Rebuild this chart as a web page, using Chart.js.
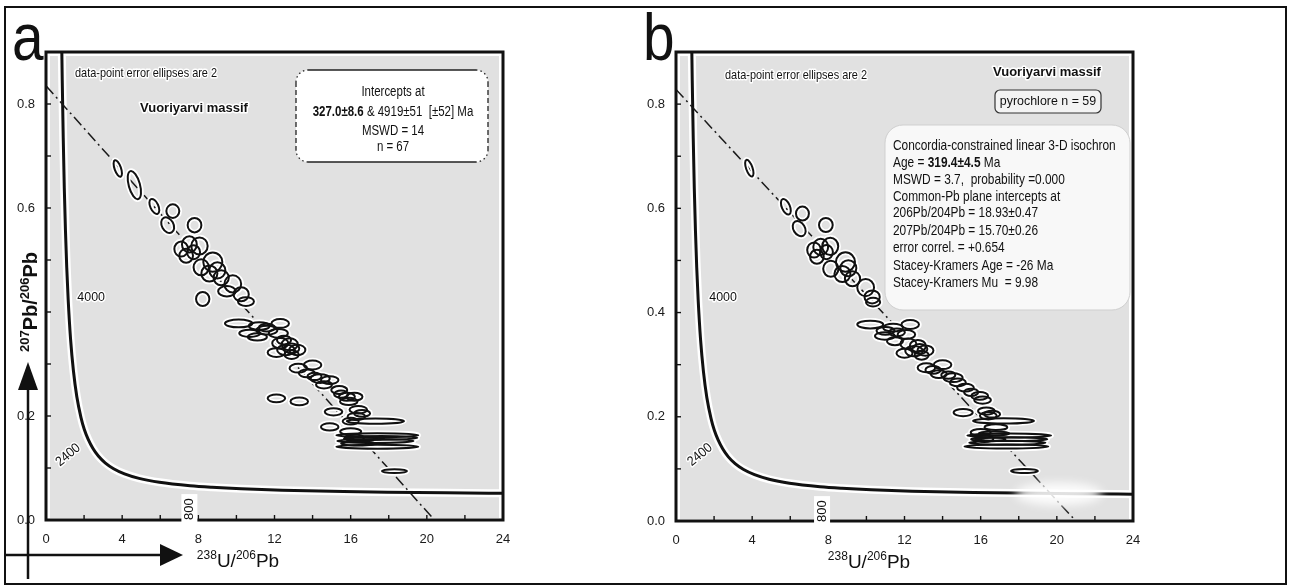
<!DOCTYPE html>
<html><head><meta charset="utf-8">
<script src="https://cdn.jsdelivr.net/npm/chart.js@4.4.1/dist/chart.umd.min.js"></script>
<style>
html,body{margin:0;padding:0;background:#fff;}
#wrap{position:relative;width:1291px;height:588px;overflow:hidden;background:#fff;}
#ca{position:absolute;left:0;top:0;}
#cb{position:absolute;left:640px;top:0;}
#border{position:absolute;left:4px;top:6px;width:1279px;height:575px;border:2.5px solid #111;pointer-events:none;}
</style></head><body>
<div id="wrap">
<canvas id="ca" width="640" height="588"></canvas>
<canvas id="cb" width="651" height="588"></canvas>
<div id="border"></div>
</div>
<script>
// ---------------- data ----------------
const xTickValues = [0, 4, 8, 12, 16, 20, 24];
const yLabelValsA = [0.0, 0.2, 0.6, 0.8];
const yLabelValsB = [0.0, 0.2, 0.4, 0.6, 0.8];

// Tera-Wasserburg concordia (age Ma, 238U/206Pb, 207Pb/206Pb)
const concAge = [5100,5000,4800,4600,4400,4200,4000,3700,3400,3100,2800,2600,2400,2200,2000,1800,1600,1400,1200,1000,800,700,600,500,400,350,300,260];
const concX = [0.829,0.853,0.905,0.960,1.022,1.089,1.163,1.290,1.440,1.619,1.838,2.013,2.217,2.459,2.749,3.105,3.550,4.123,4.888,5.959,7.568,8.718,10.252,12.399,15.620,17.923,20.990,24.29];
const concY = [0.907,0.845,0.735,0.639,0.557,0.486,0.425,0.348,0.287,0.237,0.197,0.174,0.155,0.138,0.123,0.110,0.0987,0.0888,0.0801,0.0725,0.0658,0.0628,0.0599,0.0572,0.0547,0.0535,0.0523,0.0514];

// isochrons
const isoAX = [0, 20.4], isoAY = [0.835, 0];
const isoBX = [0, 21.0], isoBY = [0.828, 0];

// panel a error ellipses: centre, half-widths, correlation
const aX  = [3.77,4.64,5.69,6.66,6.39,7.80,7.10,7.53,8.06,7.36,7.75,8.15,8.76,8.58,9.20,9.81,10.25,8.23,9.0,9.5,10.5,
             10.12,11.2,12.3,11.6,10.7,11.1,12.2,12.3,12.8,13.2,12.6,12.1,12.9,12.5,13.25,14.0,13.7,14.4,14.9,14.6,14.1,
             15.8,16.2,15.9,15.5,12.1,13.3,15.1,16.4,16.3,16.0,14.9,17.3,16.0,16.2,17.4,17.3,17.4,16.7,16.4,18.3,11.6,12.9,16.6,15.4,17.6];
const aY  = [0.676,0.644,0.603,0.594,0.567,0.567,0.521,0.530,0.527,0.508,0.515,0.486,0.496,0.474,0.466,0.454,0.434,0.425,0.480,0.440,0.420,
             0.378,0.373,0.378,0.365,0.359,0.352,0.359,0.340,0.338,0.327,0.327,0.322,0.318,0.346,0.292,0.298,0.282,0.272,0.269,0.260,0.276,
             0.237,0.237,0.228,0.242,0.234,0.228,0.208,0.212,0.199,0.190,0.179,0.190,0.170,0.158,0.163,0.152,0.141,0.157,0.147,0.094,0.370,0.330,0.205,0.250,0.158];
const aSX = [0.22,0.35,0.26,0.34,0.34,0.36,0.36,0.39,0.43,0.36,0.34,0.40,0.50,0.42,0.40,0.44,0.40,0.35,0.42,0.46,0.42,
             0.72,0.55,0.46,0.55,0.55,0.50,0.50,0.42,0.42,0.42,0.46,0.46,0.37,0.37,0.46,0.46,0.42,0.50,0.46,0.42,0.37,
             0.42,0.42,0.46,0.37,0.46,0.46,0.46,0.46,0.46,0.42,0.46,1.50,0.55,0.50,2.15,2.00,2.15,1.05,0.90,0.66,0.42,0.40,0.42,0.42,1.90];
const aSY = [0.016,0.027,0.0145,0.013,0.015,0.014,0.0145,0.0155,0.0165,0.0135,0.0135,0.0155,0.0185,0.0155,0.0145,0.0165,0.0135,0.0135,0.0155,0.010,0.0085,
             0.0075,0.0075,0.0085,0.0085,0.007,0.007,0.0085,0.010,0.0115,0.010,0.010,0.0085,0.0085,0.0085,0.0085,0.0085,0.0075,0.0085,0.0075,0.007,0.007,
             0.0075,0.0075,0.007,0.007,0.0075,0.0075,0.007,0.007,0.007,0.0065,0.007,0.005,0.0065,0.0065,0.0038,0.0038,0.0038,0.0038,0.0038,0.0038,0.0075,0.0095,0.0065,0.0075,0.0035];
const aRho = [-0.6,-0.5,-0.5,0,-0.3,0,0,0,0,0,0,0,0,0,0,0,0,0,0,0,0,
              0,0,0,0,0,0,0,0,0,0,0,0,0,0,0,0,0,0,0,0,0,
              0,0,0,0,0,0,0,0,0,0,0,0,0,0,0,0,0,0,0,0,0,0,0,0,0];

// panel b error ellipses
const bX  = [3.85,5.77,6.64,6.47,7.87,7.25,7.60,7.90,7.40,8.10,8.13,8.90,8.74,9.27,9.96,10.30,10.35,9.05,
             10.2,11.4,12.3,10.97,12.1,11.0,12.2,12.7,13.1,12.5,12.0,12.9,13.15,14.0,13.8,14.55,14.3,15.2,15.95,16.1,15.5,
             15.08,16.3,16.4,17.2,16.0,16.2,17.5,17.4,17.35,16.4,18.3,16.7,11.6,12.8,14.8,16.6,13.5,16.8,11.5,17.6];
const bY  = [0.677,0.603,0.590,0.561,0.568,0.520,0.526,0.516,0.507,0.527,0.484,0.497,0.474,0.465,0.448,0.430,0.420,0.485,
             0.377,0.371,0.377,0.355,0.358,0.365,0.340,0.336,0.327,0.326,0.322,0.318,0.294,0.300,0.282,0.275,0.280,0.256,0.240,0.232,0.247,
             0.208,0.211,0.202,0.192,0.170,0.158,0.164,0.150,0.143,0.157,0.096,0.168,0.362,0.330,0.266,0.205,0.290,0.180,0.345,0.157];
const bSX = [0.22,0.26,0.34,0.34,0.36,0.36,0.39,0.34,0.36,0.42,0.40,0.50,0.42,0.40,0.44,0.40,0.37,0.42,
             0.68,0.52,0.46,0.52,0.46,0.47,0.42,0.42,0.42,0.46,0.42,0.37,0.46,0.46,0.42,0.50,0.37,0.44,0.44,0.44,0.37,
             0.50,0.44,0.44,1.60,0.52,0.47,2.20,2.00,2.20,0.90,0.70,0.80,0.42,0.40,0.42,0.42,0.40,0.60,0.42,1.90];
const bSY = [0.016,0.015,0.0135,0.0145,0.0135,0.0145,0.0155,0.0135,0.0135,0.0165,0.0155,0.0185,0.0155,0.0145,0.0165,0.0125,0.0085,0.0155,
             0.0075,0.0075,0.0085,0.007,0.0085,0.0075,0.010,0.0115,0.010,0.010,0.0085,0.0085,0.0085,0.0085,0.0075,0.0085,0.007,0.0075,0.0075,0.007,0.007,
             0.007,0.007,0.007,0.005,0.0065,0.0065,0.0038,0.0038,0.0038,0.0038,0.0038,0.0038,0.0075,0.0095,0.0075,0.0065,0.0075,0.0055,0.0075,0.0035];
const bRho = [-0.6,-0.5,0,-0.3,0,0,0,0,0,0,0,0,0,0,0,0,0,0,
              0,0,0,0,0,0,0,0,0,0,0,0,0,0,0,0,0,0,0,0,0,
              0,0,0,0,0,0,0,0,0,0,0,0,0,0,0,0,0,0,0,0];

// ---------------- drawing helpers ----------------
const SANS = '"Liberation Sans", Arial, sans-serif';
const GREY = '#e1e1e1';
const INK = '#111';
const NARROW_SCALE = 0.82;

function pts(xs, ys){ return xs.map((x,i)=>({x, y: ys[i]})); }
function ellPts(X,Y,SX,SY,R){ return X.map((x,i)=>({x, y:Y[i], sx:SX[i], sy:SY[i], rho:R[i]})); }

function ellipseGeom(xs, ys, p){
  const cx = xs.getPixelForValue(p.x), cy = ys.getPixelForValue(p.y);
  const kx = Math.abs(xs.getPixelForValue(1) - xs.getPixelForValue(0));
  const ky = Math.abs(ys.getPixelForValue(1) - ys.getPixelForValue(0));
  const a = (p.sx*kx)**2, d = (p.sy*ky)**2, b = -p.rho*p.sx*kx*p.sy*ky;
  const m = (a+d)/2, r = Math.sqrt(((a-d)/2)**2 + b*b);
  const l1 = m + r, l2 = Math.max(m - r, 0.25);
  const th = 0.5*Math.atan2(2*b, a-d);
  return {cx, cy, rx: Math.sqrt(l1), ry: Math.sqrt(l2), th};
}

// text with optional horizontal condensing and white halo
function txt(ctx, t, x, y, opt){
  const o = Object.assign({size: 13, bold: false, align: 'left', sc: 1, halo: false, base: 'middle'}, opt || {});
  ctx.save();
  ctx.translate(x, y); ctx.scale(o.sc, 1);
  ctx.font = (o.bold ? 'bold ' : '') + o.size + 'px ' + SANS;
  ctx.textAlign = o.align; ctx.textBaseline = o.base;
  if (o.halo){ ctx.strokeStyle = '#fff'; ctx.lineWidth = 3; ctx.lineJoin = 'round'; ctx.strokeText(t, 0, 0); }
  ctx.fillStyle = INK; ctx.fillText(t, 0, 0);
  ctx.restore();
}

function drawRuns(ctx, runs, x, y, align, size, sc){
  let total = 0;
  runs.forEach(r => { ctx.font = (r.b ? 'bold ' : '') + size + 'px ' + SANS; r.w = ctx.measureText(r.t).width * sc; total += r.w; });
  let sx = align === 'center' ? x - total/2 : x;
  runs.forEach(r => { txt(ctx, r.t, sx, y, {size, bold: r.b, sc}); sx += r.w; });
}

function drawSupTitle(ctx, parts, cx, base, weight, mainSize, supSize, raise){
  let total = 0;
  parts.forEach(p => { ctx.font = weight + ' ' + (p.sup ? supSize : mainSize) + 'px ' + SANS; p.w = ctx.measureText(p.t).width; total += p.w; });
  let x = cx - total/2;
  ctx.textAlign = 'left'; ctx.textBaseline = 'alphabetic'; ctx.fillStyle = INK;
  parts.forEach(p => { ctx.font = weight + ' ' + (p.sup ? supSize : mainSize) + 'px ' + SANS; ctx.fillText(p.t, x, p.sup ? base - raise : base); x += p.w; });
}

function roundBox(ctx, x, y, w, h, r, fill, stroke, lw, dashCorners){
  ctx.save();
  ctx.beginPath(); ctx.roundRect(x, y, w, h, r);
  ctx.fillStyle = fill; ctx.fill();
  ctx.strokeStyle = stroke; ctx.lineWidth = lw;
  if (dashCorners){
    ctx.beginPath();
    ctx.moveTo(x + r, y); ctx.lineTo(x + w - r, y);
    ctx.moveTo(x + r, y + h); ctx.lineTo(x + w - r, y + h);
    ctx.stroke();
    ctx.setLineDash([5, 3]);
    ctx.beginPath();
    ctx.moveTo(x, y + r); ctx.lineTo(x, y + h - r);
    ctx.moveTo(x + w, y + r); ctx.lineTo(x + w, y + h - r);
    ctx.stroke();
    ctx.setLineDash([1.5, 3]);
    ctx.beginPath(); ctx.arc(x + r, y + r, r, Math.PI, 1.5*Math.PI); ctx.stroke();
    ctx.beginPath(); ctx.arc(x + w - r, y + r, r, 1.5*Math.PI, 2*Math.PI); ctx.stroke();
    ctx.beginPath(); ctx.arc(x + w - r, y + h - r, r, 0, 0.5*Math.PI); ctx.stroke();
    ctx.beginPath(); ctx.arc(x + r, y + h - r, r, 0.5*Math.PI, Math.PI); ctx.stroke();
  } else {
    ctx.stroke();
  }
  ctx.restore();
}

function dataText(chart, t, dx, dy, rot, size){
  const ctx = chart.ctx, xs = chart.scales.x, ys = chart.scales.y;
  const px = xs.getPixelForValue(dx), py = ys.getPixelForValue(dy);
  ctx.save(); ctx.translate(px, py); ctx.rotate(rot);
  txt(ctx, t, 0, 0, {size, align: 'center', halo: true, sc: 0.92});
  ctx.restore();
}

function label800(chart, dx, dy){
  const ctx = chart.ctx, xs = chart.scales.x, ys = chart.scales.y;
  const px = xs.getPixelForValue(dx), py = ys.getPixelForValue(dy);
  ctx.save(); ctx.translate(px, py); ctx.rotate(-Math.PI/2);
  ctx.fillStyle = '#fff'; ctx.fillRect(-15, -8, 30, 16);
  txt(ctx, '800', 0, 0.5, {size: 13, align: 'center'});
  ctx.restore();
}

function makePlugin(cfg){
  return {
    id: 'panel' + cfg.name,
    beforeDraw(chart){
      const {ctx, chartArea: ca} = chart;
      ctx.save();
      ctx.fillStyle = '#fff'; ctx.fillRect(ca.left, ca.top, ca.width, ca.height);
      ctx.fillStyle = GREY; ctx.fillRect(ca.left + 4, ca.top + 4, ca.width - 8, ca.height - 6);
      ctx.restore();
    },
    afterDatasetsDraw(chart){
      const {ctx, chartArea: ca} = chart;
      const xs = chart.scales.x, ys = chart.scales.y;
      ctx.save();
      ctx.beginPath(); ctx.rect(ca.left, ca.top, ca.width, ca.height); ctx.clip();
      if (cfg.blob){
        ctx.save();
        ctx.filter = 'blur(5px)';
        ctx.fillStyle = 'rgba(255,255,255,0.88)';
        const g = ellipseGeom(xs, ys, cfg.blob);
        ctx.beginPath(); ctx.ellipse(g.cx, g.cy, g.rx, g.ry, g.th, 0, 2*Math.PI); ctx.fill();
        ctx.restore();
      }
      chart.data.datasets.forEach(ds => {
        if (!ds.ellipse) return;
        const geoms = ds.data.map(p => ellipseGeom(xs, ys, p));
        ctx.strokeStyle = '#fff'; ctx.lineWidth = 5.5;
        geoms.forEach(g => { ctx.beginPath(); ctx.ellipse(g.cx, g.cy, g.rx, g.ry, g.th, 0, 2*Math.PI); ctx.stroke(); });
        ctx.strokeStyle = INK; ctx.lineWidth = 2;
        geoms.forEach(g => { ctx.beginPath(); ctx.ellipse(g.cx, g.cy, g.rx, g.ry, g.th, 0, 2*Math.PI); ctx.stroke(); });
      });
      ctx.restore();
      cfg.inside(chart);
    },
    afterDraw(chart){
      const {ctx, chartArea: ca} = chart;
      const xs = chart.scales.x, ys = chart.scales.y;
      ctx.save();
      ctx.strokeStyle = INK; ctx.lineWidth = 1.4;
      ys.ticks.forEach(t => {
        if (t.value <= 0 || t.value >= ys.max - 1e-9) return;
        const py = ys.getPixelForValue(t.value);
        ctx.beginPath(); ctx.moveTo(ca.left, py); ctx.lineTo(ca.left + 5, py); ctx.stroke();
      });
      xs.ticks.forEach(t => {
        if (t.value <= 0 || t.value >= xs.max) return;
        const px = xs.getPixelForValue(t.value);
        ctx.beginPath(); ctx.moveTo(px, ca.bottom); ctx.lineTo(px, ca.bottom - 5); ctx.stroke();
      });
      ctx.lineWidth = 3; ctx.strokeStyle = INK;
      ctx.strokeRect(ca.left, ca.top, ca.width, ca.height);
      ctx.restore();
      label800(chart, cfg.l800[0], cfg.l800[1]);
      cfg.outside(chart);
    }
  };
}

function makeChart(canvas, cfg){
  return new Chart(canvas, {
    type: 'scatter',
    data: { datasets: [
      { data: cfg.ellipses, ellipse: true, pointRadius: 0, pointHoverRadius: 0, order: 0 },
      { data: pts(cfg.isoX, cfg.isoY), showLine: true, borderColor: '#1a1a1a', borderWidth: 1.5,
        borderDash: [11, 4, 2, 4], pointRadius: 0, order: 1 },
      { data: pts(concX, concY), showLine: true, borderColor: INK, borderWidth: 3,
        cubicInterpolationMode: 'monotone', pointRadius: 0, order: 2 },
      { data: pts(concX, concY), showLine: true, borderColor: '#fff', borderWidth: 8,
        cubicInterpolationMode: 'monotone', pointRadius: 0, order: 3 }
    ]},
    options: {
      responsive: false, animation: false, devicePixelRatio: 1,
      events: [],
      layout: { padding: cfg.pad },
      plugins: { legend: { display: false }, tooltip: { enabled: false } },
      scales: {
        x: {
          type: 'linear', min: 0, max: 24,
          grid: { display: false, drawTicks: false }, border: { display: false },
          ticks: { stepSize: 2, autoSkip: false, maxRotation: 0, padding: 12,
            color: '#1a1a1a', font: { family: SANS, size: 13 },
            callback: v => (Math.abs(v - Math.round(v)) < 1e-6 && xTickValues.includes(Math.round(v))) ? String(Math.round(v)) : '' },
          afterFit: s => { s.height = 40; }
        },
        y: {
          type: 'linear', min: 0, max: 0.9,
          grid: { display: false, drawTicks: false }, border: { display: false },
          ticks: { stepSize: 0.1, autoSkip: false, padding: 11,
            color: '#1a1a1a', font: { family: SANS, size: 13 },
            callback: v => cfg.yLabels.some(t => Math.abs(t - v) < 1e-6) ? v.toFixed(1) : '' },
          afterFit: s => { s.width = cfg.yW; }
        }
      }
    },
    plugins: [makePlugin(cfg)]
  });
}

// ---------------- panel a ----------------
makeChart(document.getElementById('ca'), {
  name: 'a',
  pad: { left: 6, right: 137, top: 52, bottom: 28 }, yW: 40,
  yLabels: yLabelValsA,
  isoX: isoAX, isoY: isoAY,
  ellipses: ellPts(aX, aY, aSX, aSY, aRho),
  l800: [7.53, 0.021],
  inside(chart){
    const ctx = chart.ctx;
    txt(ctx, 'data-point error ellipses are 2', 75, 73, {size: 13, sc: 0.84, halo: true});
    txt(ctx, 'Vuoriyarvi massif', 194, 108, {size: 13, bold: true, align: 'center', halo: true});
    dataText(chart, '4000', 2.37, 0.429, 0, 13.5);
    dataText(chart, '2400', 1.16, 0.125, -40*Math.PI/180, 13.5);
    roundBox(ctx, 296, 70, 192, 92, 12, '#fff', '#222', 1.3, true);
    drawRuns(ctx, [{t:'Intercepts at'}], 393, 92, 'center', 14, NARROW_SCALE);
    drawRuns(ctx, [{t:'327.0±8.6', b:true}, {t:' & 4919±51  [±52] Ma'}], 393, 112, 'center', 14, NARROW_SCALE);
    drawRuns(ctx, [{t:'MSWD = 14'}], 393, 131, 'center', 14, NARROW_SCALE);
    drawRuns(ctx, [{t:'n = 67'}], 393, 147, 'center', 14, NARROW_SCALE);
  },
  outside(chart){
    const ctx = chart.ctx;
    txt(ctx, 'a', 12, 60, {size: 66, sc: 0.86, base: 'alphabetic'});
    drawSupTitle(ctx, [{t:'238',sup:true},{t:'U'},{t:'/'},{t:'206',sup:true},{t:'Pb'}], 238, 567, 'normal', 19, 12, 8);
    ctx.save(); ctx.translate(37, 302); ctx.rotate(-Math.PI/2);
    drawSupTitle(ctx, [{t:'207',sup:true},{t:'Pb'},{t:'/'},{t:'206',sup:true},{t:'Pb'}], 0, 0, 'bold', 20, 13, 8);
    ctx.restore();
    ctx.save();
    ctx.strokeStyle = INK; ctx.fillStyle = INK; ctx.lineWidth = 2.5;
    ctx.beginPath(); ctx.moveTo(28, 385); ctx.lineTo(28, 579); ctx.stroke();
    ctx.beginPath(); ctx.moveTo(28, 362); ctx.lineTo(18, 390); ctx.lineTo(38, 390); ctx.closePath(); ctx.fill();
    ctx.beginPath(); ctx.moveTo(5, 555); ctx.lineTo(165, 555); ctx.stroke();
    ctx.beginPath(); ctx.moveTo(183, 555); ctx.lineTo(160, 544); ctx.lineTo(160, 566); ctx.closePath(); ctx.fill();
    ctx.restore();
  }
});

// ---------------- panel b ----------------
makeChart(document.getElementById('cb'), {
  name: 'b',
  pad: { left: 6, right: 158, top: 52, bottom: 27 }, yW: 30,
  yLabels: yLabelValsB,
  isoX: isoBX, isoY: isoBY,
  ellipses: ellPts(bX, bY, bSX, bSY, bRho),
  blob: { x: 20.1, y: 0.052, sx: 2.3, sy: 0.022, rho: 0 },
  l800: [7.67, 0.019],
  inside(chart){
    const ctx = chart.ctx;
    txt(ctx, 'data-point error ellipses are 2', 85, 75, {size: 13, sc: 0.84, halo: true});
    txt(ctx, 'Vuoriyarvi massif', 407, 72, {size: 13, bold: true, align: 'center', halo: true});
    dataText(chart, '4000', 2.47, 0.43, 0, 13.5);
    dataText(chart, '2400', 1.26, 0.127, -40*Math.PI/180, 13.5);
    roundBox(ctx, 355, 90, 106, 23, 5, '#f3f3f3', '#333', 1.2, false);
    drawRuns(ctx, [{t:'pyrochlore n = 59'}], 408, 101.5, 'center', 13.5, 0.92);
    roundBox(ctx, 245, 125, 245, 185, 18, '#f8f8f8', '#cfcfcf', 1, false);
    const lines = [
      [{t:'Concordia-constrained linear 3-D isochron'}],
      [{t:'Age = '}, {t:'319.4±4.5', b:true}, {t:' Ma'}],
      [{t:'MSWD = 3.7,  probability =0.000'}],
      [{t:'Common-Pb plane intercepts at'}],
      [{t:'206Pb/204Pb = 18.93±0.47'}],
      [{t:'207Pb/204Pb = 15.70±0.26'}],
      [{t:'error correl. = +0.654'}],
      [{t:'Stacey-Kramers Age = -26 Ma'}],
      [{t:'Stacey-Kramers Mu  = 9.98'}]
    ];
    const ys0 = [146, 163, 180, 197, 213, 231, 248, 266, 283];
    lines.forEach((r, i) => drawRuns(ctx, r, 253, ys0[i], 'left', 14.5, NARROW_SCALE));
  },
  outside(chart){
    const ctx = chart.ctx;
    txt(ctx, 'b', 3, 60, {size: 66, sc: 0.86, base: 'alphabetic'});
    drawSupTitle(ctx, [{t:'238',sup:true},{t:'U'},{t:'/'},{t:'206',sup:true},{t:'Pb'}], 229, 568, 'normal', 19, 12, 8);
  }
});
</script>
</body></html>
